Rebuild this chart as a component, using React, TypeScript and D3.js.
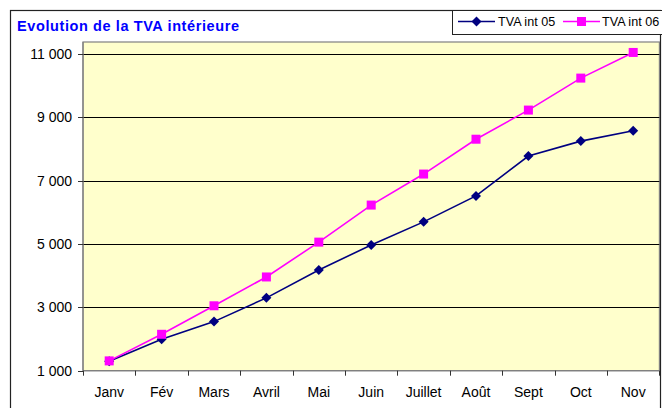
import React, { useEffect, useRef } from "react";
import * as d3 from "d3";

const months = ["Janv", "Fév", "Mars", "Avril", "Mai", "Juin", "Juillet", "Août", "Sept", "Oct", "Nov"];
const tva05 = [1300, 1990, 2550, 3300, 4180, 4970, 5700, 6520, 7780, 8250, 8580];
const tva06 = [1310, 2150, 3050, 3960, 5060, 6230, 7210, 8310, 9230, 10240, 11050];
const yTicks = [1000, 3000, 5000, 7000, 9000, 11000];
const seriesNames = ["TVA int 05", "TVA int 06"];
const title = "Evolution de la TVA intérieure";

const W = 662;
const H = 408;
const plot = { left: 83, top: 42, right: 659.4, bottom: 370.7 };
const FONT = "Arial, 'Liberation Sans', Helvetica, sans-serif";

export default function App() {
  const ref = useRef<SVGSVGElement>(null);

  useEffect(() => {
    const svg = d3.select(ref.current);
    svg.selectAll("*").remove();

    const x = d3.scaleBand().domain(months).range([plot.left, plot.right]).padding(0);
    const y = d3.scaleLinear().domain([1000, 11380]).range([plot.bottom, plot.top]);

    svg.append("rect").attr("x", 0).attr("y", 0).attr("width", W).attr("height", H).attr("fill", "#fff");

    // outer chart border
    svg.append("rect")
      .attr("x", 10.5).attr("y", 10.5).attr("width", 650).attr("height", 420)
      .attr("fill", "none").attr("stroke", "#222").attr("stroke-width", 1.2);

    // plot area
    svg.append("rect")
      .attr("x", plot.left).attr("y", plot.top)
      .attr("width", plot.right - plot.left).attr("height", plot.bottom - plot.top)
      .attr("fill", "#FFFFCC").attr("stroke", "#808080").attr("stroke-width", 1.2);

    // gridlines
    svg.append("g").selectAll("line").data(yTicks.filter((t) => t > 1000)).join("line")
      .attr("x1", plot.left).attr("x2", plot.right)
      .attr("y1", (d) => Math.round(y(d)) + 0.5).attr("y2", (d) => Math.round(y(d)) + 0.5)
      .attr("stroke", "#000").attr("stroke-width", 1);

    // y axis
    const gy = svg.append("g");
    gy.append("line").attr("x1", plot.left).attr("x2", plot.left).attr("y1", plot.top).attr("y2", plot.bottom)
      .attr("stroke", "#808080").attr("stroke-width", 1.2);
    gy.selectAll("line.t").data(yTicks).join("line").attr("class", "t")
      .attr("x1", plot.left - 5).attr("x2", plot.left)
      .attr("y1", (d) => Math.round(y(d)) + 0.5).attr("y2", (d) => Math.round(y(d)) + 0.5)
      .attr("stroke", "#333");
    const fmt = (v: number) => d3.format(",")(v).replace(/,/g, " ");
    gy.selectAll("text").data(yTicks).join("text")
      .attr("x", 72).attr("y", (d) => y(d) + 5)
      .attr("text-anchor", "end").attr("font-family", FONT).attr("font-size", 14).attr("fill", "#000")
      .text((d) => fmt(d));

    // x axis
    const gx = svg.append("g");
    gx.append("line").attr("x1", plot.left).attr("x2", plot.right).attr("y1", plot.bottom).attr("y2", plot.bottom)
      .attr("stroke", "#808080").attr("stroke-width", 1.2);
    const bounds = months.map((m) => x(m)!).concat([plot.right]);
    gx.selectAll("line.t").data(bounds).join("line").attr("class", "t")
      .attr("x1", (d) => Math.round(d) + 0.5).attr("x2", (d) => Math.round(d) + 0.5)
      .attr("y1", plot.bottom).attr("y2", plot.bottom + 5)
      .attr("stroke", "#333");
    gx.selectAll("text").data(months).join("text")
      .attr("x", (d) => x(d)! + x.bandwidth() / 2).attr("y", 397)
      .attr("text-anchor", "middle").attr("font-family", FONT).attr("font-size", 14).attr("fill", "#000")
      .text((d) => d);

    const cx = (i: number) => x(months[i])! + x.bandwidth() / 2;
    const line = d3.line<number>().x((_, i) => cx(i)).y((d) => y(d));

    const diamond = (g: any, px: number, py: number, color: string) =>
      g.append("path")
        .attr("d", `M${px},${py - 5}L${px + 5},${py}L${px},${py + 5}L${px - 5},${py}Z`)
        .attr("fill", color);
    const square = (g: any, px: number, py: number, color: string) =>
      g.append("rect").attr("x", px - 4.5).attr("y", py - 4.5).attr("width", 9).attr("height", 9).attr("fill", color);

    // series 05
    const g5 = svg.append("g");
    g5.append("path").datum(tva05).attr("d", line).attr("fill", "none").attr("stroke", "#000080").attr("stroke-width", 1.6);
    tva05.forEach((v, i) => diamond(g5, cx(i), y(v), "#000080"));

    // series 06
    const g6 = svg.append("g");
    g6.append("path").datum(tva06).attr("d", line).attr("fill", "none").attr("stroke", "#FF00FF").attr("stroke-width", 1.6);
    tva06.forEach((v, i) => square(g6, cx(i), y(v), "#FF00FF"));

    // title
    svg.append("text")
      .attr("x", 17).attr("y", 31)
      .attr("font-family", FONT).attr("font-size", 14.5).attr("font-weight", "bold").attr("fill", "#0000FF")
      .attr("textLength", 222).attr("lengthAdjust", "spacing")
      .text(title);

    // legend
    const lg = svg.append("g");
    lg.append("rect").attr("x", 452.5).attr("y", 10.5).attr("width", 230).attr("height", 24)
      .attr("fill", "#fff").attr("stroke", "#222").attr("stroke-width", 1);
    const items = [
      { name: seriesNames[0], color: "#000080", x0: 458, tx: 498, kind: "d" },
      { name: seriesNames[1], color: "#FF00FF", x0: 563, tx: 602, kind: "s" },
    ];
    items.forEach((it) => {
      lg.append("line").attr("x1", it.x0).attr("x2", it.x0 + 37).attr("y1", 21.5).attr("y2", 21.5)
        .attr("stroke", it.color).attr("stroke-width", 1.6);
      if (it.kind === "d") diamond(lg, it.x0 + 18.5, 21.5, it.color);
      else square(lg, it.x0 + 18.5, 21.5, it.color);
      lg.append("text").attr("x", it.tx).attr("y", 26)
        .attr("font-family", FONT).attr("font-size", 12.6).attr("fill", "#000").text(it.name);
    });
  }, []);

  return (
    <div style={{ position: "absolute", left: 0, top: 0, width: W, height: H }}>
      <svg ref={ref} width={W} height={H} style={{ display: "block" }} />
    </div>
  );
}
